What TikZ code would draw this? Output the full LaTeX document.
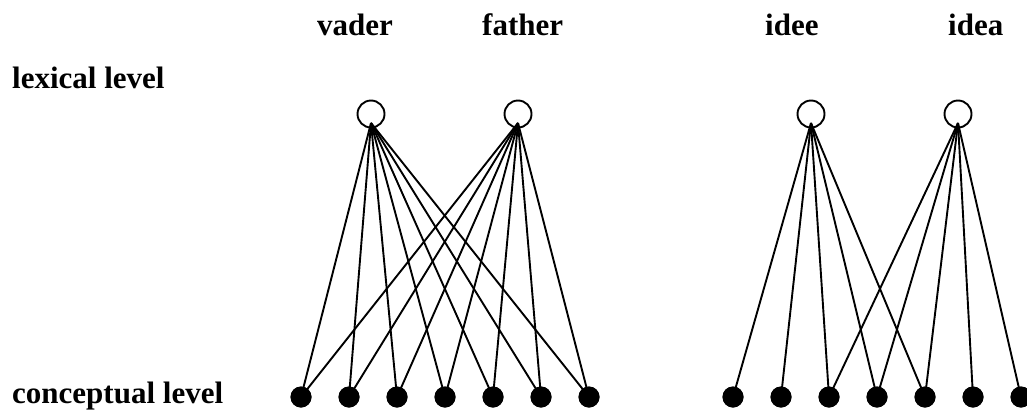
\documentclass[tikz,border=0pt]{standalone}
\usepackage{fontspec}
\setmainfont{Liberation Serif}
\begin{document}
\begin{tikzpicture}[x=1pt,y=-1pt,
  lbl/.style={inner sep=0pt,anchor=base west,font=\fontsize{31}{36}\selectfont\bfseries},
  lex/.style={circle,draw,line width=1.9pt,fill=white,minimum size=27pt,inner sep=0pt},
  con/.style={circle,fill=black,minimum size=21pt,inner sep=0pt},
  lnk/.style={line width=1.9pt}]
\useasboundingbox (0,0) rectangle (1027,410);
% labels
\node[lbl] (tv) at (317,35) {vader};
\node[lbl] (tf) at (482,35) {father};
\node[lbl] (tie) at (765,35) {idee};
\node[lbl] (tia) at (948,35) {idea};
\node[lbl] (tlex) at (12,88) {lexical level};
\node[lbl] (tcon) at (12,403) {conceptual level};
% lexical nodes
\node[lex] (v) at (371,114) {};
\node[lex] (f) at (518,114) {};
\node[lex] (ie) at (811,114) {};
\node[lex] (ia) at (958,114) {};
\coordinate (vs) at (371,123);
\coordinate (fs) at (518,123);
\coordinate (ies) at (811,123);
\coordinate (ias) at (958,123);
% conceptual nodes
\foreach \i/\x in {1/301,2/349,3/397,4/445,5/493,6/541,7/589}
  \node[con] (l\i) at (\x,397) {};
\foreach \i/\x in {1/733,2/781,3/829,4/877,5/925,6/973,7/1021}
  \node[con] (r\i) at (\x,397) {};
% links
\foreach \i in {1,...,7} {
  \draw[lnk] (vs) -- (l\i.center);
  \draw[lnk] (fs) -- (l\i.center);
}
\foreach \i in {1,...,5}
  \draw[lnk] (ies) -- (r\i.center);
\foreach \i in {3,...,7}
  \draw[lnk] (ias) -- (r\i.center);
% redraw dots on top of the link ends
\foreach \i in {1,...,7} {
  \fill (l\i) circle (10.5pt);
  \fill (r\i) circle (10.5pt);
}
\end{tikzpicture}
\end{document}
